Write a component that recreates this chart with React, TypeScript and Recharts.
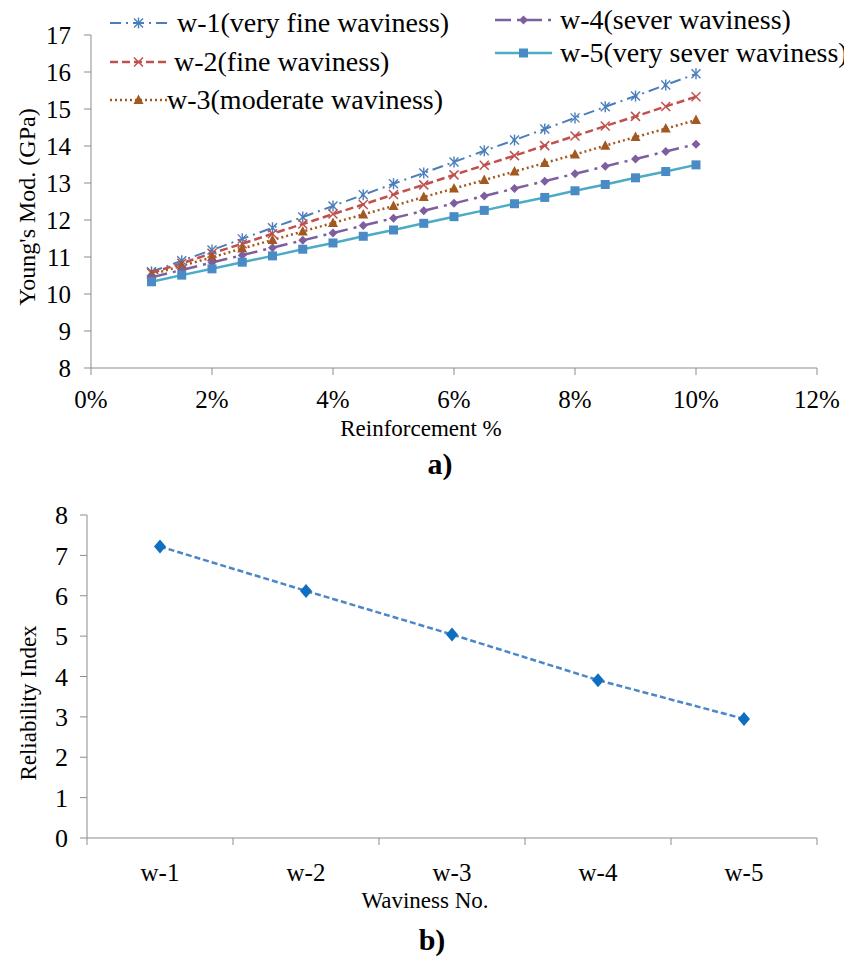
import React from "react";
import { LineChart, Line, XAxis, YAxis } from "recharts";

const reinforcementPct = [1, 1.5, 2, 2.5, 3, 3.5, 4, 4.5, 5, 5.5, 6, 6.5, 7, 7.5, 8, 8.5, 9, 9.5, 10];
const w1Values = [10.6, 10.9, 11.19, 11.49, 11.79, 12.08, 12.38, 12.68, 12.98, 13.27, 13.57, 13.87, 14.16, 14.46, 14.76, 15.06, 15.35, 15.65, 15.95];
const w2Values = [10.57, 10.83, 11.1, 11.36, 11.63, 11.89, 12.16, 12.42, 12.69, 12.95, 13.22, 13.48, 13.74, 14.01, 14.27, 14.54, 14.8, 15.07, 15.33];
const w3Values = [10.53, 10.76, 10.99, 11.23, 11.46, 11.69, 11.92, 12.15, 12.38, 12.62, 12.85, 13.08, 13.31, 13.54, 13.77, 14.01, 14.24, 14.47, 14.7];
const w4Values = [10.45, 10.65, 10.85, 11.05, 11.25, 11.45, 11.65, 11.85, 12.05, 12.25, 12.45, 12.65, 12.85, 13.05, 13.25, 13.45, 13.65, 13.85, 14.05];
const w5Values = [10.33, 10.51, 10.68, 10.86, 11.03, 11.21, 11.38, 11.56, 11.73, 11.91, 12.09, 12.26, 12.44, 12.61, 12.79, 12.96, 13.14, 13.31, 13.49];
const seriesNames = [
  "w-1(very fine waviness)",
  "w-2(fine waviness)",
  "w-3(moderate waviness)",
  "w-4(sever waviness)",
  "w-5(very sever waviness)",
];
const xTicks = [0, 2, 4, 6, 8, 10, 12];
const yTicksTop = [8, 9, 10, 11, 12, 13, 14, 15, 16, 17];

const wavinessCategories = ["w-1", "w-2", "w-3", "w-4", "w-5"];
const reliabilityIndex = [7.22, 6.12, 5.04, 3.91, 2.95];
const yTicksBottom = [0, 1, 2, 3, 4, 5, 6, 7, 8];
const xTicksBottom = [0.5, 1, 1.5, 2, 2.5, 3, 3.5, 4, 4.5, 5, 5.5];

const allSeries = [w1Values, w2Values, w3Values, w4Values, w5Values];
const topData = reinforcementPct.map((x, i) => {
  const row: any = { x };
  seriesNames.forEach((n, s) => (row[n] = allSeries[s][i]));
  return row;
});
const bottomData = wavinessCategories.map((c, i) => ({ x: i + 1, cat: c, ri: reliabilityIndex[i] }));

const FONT = "'Times New Roman', 'Liberation Serif', Tinos, 'DejaVu Serif', serif";
const AXIS = "#8c8c8c";

const C1 = "#4A7EBB";
const C2 = "#C0504D";
const C3 = "#A2581F";
const C4 = "#7D5FA0";
const C5 = "#4BACC6";
const C5M = "#4A8BC6";

const Star = (cx: number, cy: number, c: string, k?: any) => (
  <g key={k}>
    <line x1={cx - 4.5} y1={cy - 4.5} x2={cx + 4.5} y2={cy + 4.5} stroke={c} strokeWidth={1.4} />
    <line x1={cx - 4.5} y1={cy + 4.5} x2={cx + 4.5} y2={cy - 4.5} stroke={c} strokeWidth={1.4} />
    <line x1={cx} y1={cy - 5.5} x2={cx} y2={cy + 5.5} stroke={c} strokeWidth={1.4} />
  </g>
);
const Cross = (cx: number, cy: number, c: string, k?: any) => (
  <g key={k}>
    <line x1={cx - 4.5} y1={cy - 4.5} x2={cx + 4.5} y2={cy + 4.5} stroke={c} strokeWidth={1.5} />
    <line x1={cx - 4.5} y1={cy + 4.5} x2={cx + 4.5} y2={cy - 4.5} stroke={c} strokeWidth={1.5} />
  </g>
);
const Tri = (cx: number, cy: number, c: string, k?: any) => (
  <path key={k} d={`M${cx},${cy - 5.5} L${cx + 5},${cy + 4} L${cx - 5},${cy + 4} Z`} fill={c} />
);
const Dia = (cx: number, cy: number, c: string, k?: any) => (
  <path key={k} d={`M${cx},${cy - 4.5} L${cx + 4.5},${cy} L${cx},${cy + 4.5} L${cx - 4.5},${cy} Z`} fill={c} />
);
const Sq = (cx: number, cy: number, c: string, k?: any) => (
  <rect key={k} x={cx - 4.5} y={cy - 4.5} width={9} height={9} fill={c} />
);

const seriesStyles = [
  { color: C1, dash: "11 5 2 5", width: 2, marker: (cx: number, cy: number, k?: any) => Star(cx, cy, C1, k) },
  { color: C2, dash: "8 4", width: 2.5, marker: (cx: number, cy: number, k?: any) => Cross(cx, cy, C2, k) },
  { color: C3, dash: "2 3", width: 2.5, marker: (cx: number, cy: number, k?: any) => Tri(cx, cy, C3, k) },
  { color: C4, dash: "16 6 3 6", width: 2.5, marker: (cx: number, cy: number, k?: any) => Dia(cx, cy, C4, k) },
  { color: C5, dash: undefined, width: 2.5, marker: (cx: number, cy: number, k?: any) => Sq(cx, cy, C5M, k) },
];

const legendPos = [
  { left: 102, top: 15, textLeft: 169 },
  { left: 102, top: 54, textLeft: 166 },
  { left: 102, top: 92, textLeft: 159 },
  { left: 487, top: 12, textLeft: 552 },
  { left: 487, top: 45, textLeft: 552 },
];

const txt = (s: string, cx: number, cy: number, size: number, extra: any = {}) => (
  <div
    style={{
      position: "absolute",
      left: cx,
      top: cy,
      transform: `translate(-50%, -50%)${extra.rotate ? " rotate(-90deg)" : ""}`,
      fontFamily: FONT,
      fontSize: size,
      fontWeight: extra.bold ? "bold" : "normal",
      whiteSpace: "nowrap",
      color: "#000",
      lineHeight: 1,
    }}
  >
    {s}
  </div>
);

const BottomTick = (props: any) => {
  const { x, y, payload } = props;
  const v = payload.value;
  if (Number.isInteger(v)) {
    return (
      <text x={x} y={y + 43} textAnchor="middle" fontFamily={FONT} fontSize={25} fill="#000">
        {wavinessCategories[v - 1]}
      </text>
    );
  }
  return <line x1={x} x2={x} y1={y} y2={y + 7} stroke={AXIS} strokeWidth={1} />;
};

export default function App() {
  return (
    <div style={{ position: "relative", width: 836, height: 950, background: "#fff", fontFamily: FONT }}>
      <div style={{ position: "absolute", left: 0, top: 0 }}>
        <LineChart width={836} height={440} data={topData} margin={{ top: 27, right: 27, left: 0, bottom: 0 }}>
          <XAxis
            dataKey="x"
            type="number"
            domain={[0, 12]}
            ticks={xTicks}
            interval={0}
            tickFormatter={(v: number) => `${v}%`}
            stroke={AXIS}
            tickSize={7}
            tickMargin={15}
            height={80}
            tick={{ fill: "#000", fontSize: 25, fontFamily: FONT }}
          />
          <YAxis
            type="number"
            domain={[8, 17]}
            ticks={yTicksTop}
            interval={0}
            width={83}
            stroke={AXIS}
            tickSize={7}
            tickMargin={13}
            tick={{ fill: "#000", fontSize: 25, fontFamily: FONT }}
          />
          {seriesNames.map((n, s) => (
            <Line
              key={n}
              type="linear"
              dataKey={n}
              stroke={seriesStyles[s].color}
              strokeWidth={seriesStyles[s].width}
              strokeDasharray={seriesStyles[s].dash}
              isAnimationActive={false}
              dot={(p: any) => seriesStyles[s].marker(p.cx, p.cy, `${n}-${p.index}`)}
              activeDot={false}
            />
          ))}
        </LineChart>
      </div>
      {seriesNames.map((n, s) => (
        <div key={n} style={{ position: "absolute", left: legendPos[s].left, top: legendPos[s].top - 14, height: 28 }}>
          <svg width={60} height={28} style={{ position: "absolute", left: 0, top: 0 }}>
            <line x1={0} x2={57} y1={14} y2={14} stroke={seriesStyles[s].color} strokeWidth={seriesStyles[s].width} strokeDasharray={seriesStyles[s].dash} />
            {seriesStyles[s].marker(28.5, 14)}
          </svg>
        </div>
      ))}
      {seriesNames.map((n, s) => (
        <div
          key={n + "t"}
          style={{
            position: "absolute",
            left: legendPos[s].textLeft,
            top: legendPos[s].top - 16,
            fontFamily: FONT,
            fontSize: 28,
            lineHeight: "32px",
            whiteSpace: "nowrap",
            color: "#000",
          }}
        >
          {n}
        </div>
      ))}
      {txt("Young's Mod. (GPa)", 19, 199, 24, { rotate: true })}
      {txt("Reinforcement %", 413, 420, 23)}
      {txt("a)", 432, 456, 30, { bold: true })}

      <div style={{ position: "absolute", left: 0, top: 482 }}>
        <LineChart width={836} height={476} data={bottomData} margin={{ top: 25, right: 27, left: 0, bottom: 0 }}>
          <XAxis
            dataKey="x"
            type="number"
            domain={[0.5, 5.5]}
            ticks={xTicksBottom}
            interval={0}
            stroke={AXIS}
            tickLine={false}
            tickSize={0}
            tickMargin={0}
            height={128}
            tick={<BottomTick />}
          />
          <YAxis
            type="number"
            domain={[0, 8]}
            ticks={yTicksBottom}
            interval={0}
            width={79}
            stroke={AXIS}
            tickSize={7}
            tickMargin={12}
            tick={{ fill: "#000", fontSize: 26, fontFamily: FONT }}
          />
          <Line
            type="linear"
            dataKey="ri"
            stroke="#4A86C8"
            strokeWidth={2.5}
            strokeDasharray="6 3"
            isAnimationActive={false}
            activeDot={false}
            dot={(p: any) => (
              <path
                key={`d-${p.index}`}
                d={`M${p.cx},${p.cy - 7} L${p.cx + 6},${p.cy} L${p.cx},${p.cy + 7} L${p.cx - 6},${p.cy} Z`}
                fill="#0E6FC0"
              />
            )}
          />
        </LineChart>
      </div>
      {txt("Reliability Index", 20, 695, 23, { rotate: true })}
      {txt("Waviness No.", 417, 892, 23)}
      {txt("b)", 424, 932, 30, { bold: true })}
    </div>
  );
}
